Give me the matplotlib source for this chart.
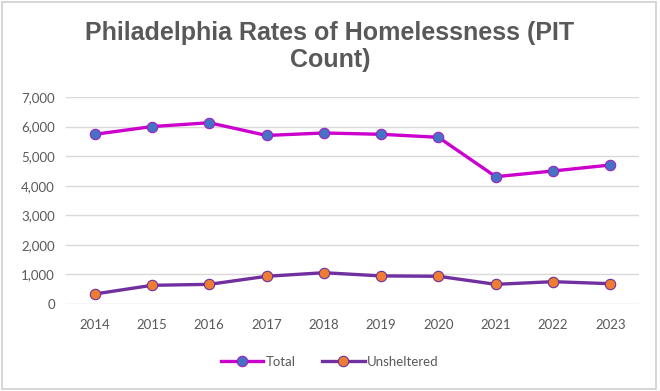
import matplotlib
matplotlib.use("Agg")
import matplotlib.pyplot as plt
from matplotlib.patches import Rectangle
from matplotlib.ticker import FuncFormatter

years = ["2014", "2015", "2016", "2017", "2018", "2019", "2020", "2021", "2022", "2023"]
total = [5738, 6000, 6130, 5700, 5783, 5739, 5637, 4305, 4498, 4700]
unsheltered = [338, 632, 665, 937, 1058, 950, 937, 665, 755, 687]

fig = plt.figure(figsize=(6.6, 3.91), dpi=100)
ax = fig.add_axes([66/660, 1-304/391, 573/660, 207/391])

x = list(range(len(years)))
ax.plot(x, total, color="#CC00CC", lw=2.4, marker="o", ms=7.5,
        mfc="#4472C4", mec="#A020C0", mew=0.8, label="Total", zorder=3)
ax.plot(x, unsheltered, color="#7030A0", lw=2.4, marker="o", ms=7.5,
        mfc="#ED7D31", mec="#7030A0", mew=0.8, label="Unsheltered", zorder=3)

ax.set_xlim(-0.5, len(years) - 0.5)
ax.set_ylim(0, 7000)
ax.set_yticks(range(0, 7001, 1000))
ax.yaxis.set_major_formatter(FuncFormatter(lambda v, p: f"{int(v):,}"))
ax.set_xticks(x)
ax.set_xticklabels(years)
ax.grid(axis="y", color="#D9D9D9", lw=1)
ax.set_axisbelow(True)
for s in ax.spines.values():
    s.set_visible(False)
ax.tick_params(length=0, labelsize=9.5, colors="#595959")
ax.tick_params(axis="x", pad=11)
ax.tick_params(axis="y", pad=8)
for lbl in ax.get_xticklabels() + ax.get_yticklabels():
    lbl.set_family("Lato")

fig.text(0.5, 1-33/391, "Philadelphia Rates of Homelessness (PIT", ha="center", va="center",
         fontsize=18, fontweight="bold", color="#595959", family="Liberation Sans")
fig.text(0.5, 1-60/391, "Count)", ha="center", va="center",
         fontsize=18, fontweight="bold", color="#595959", family="Liberation Sans")

leg = fig.legend(loc="center", bbox_to_anchor=(0.5, 1-362/391), ncol=2, frameon=False,
                 prop={"family": "Lato", "size": 9.5}, handlelength=3.2,
                 columnspacing=2.0, handletextpad=0.2)
for t in leg.get_texts():
    t.set_color("#595959")

fig.patches.append(Rectangle((2/660, 2/391), 654/660, 387/391, transform=fig.transFigure,
                             fill=False, ec="#D0D0D0", lw=1.2))

fig.savefig("out.png", dpi=100)
